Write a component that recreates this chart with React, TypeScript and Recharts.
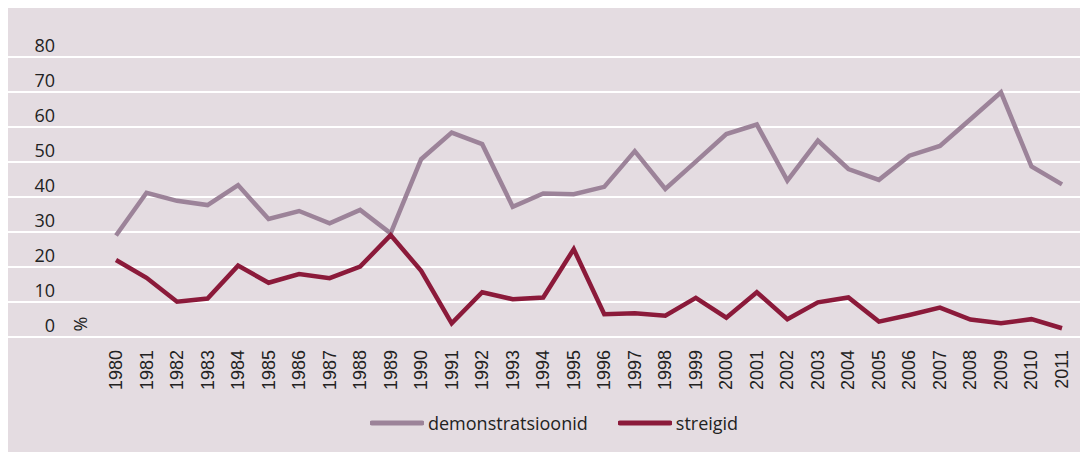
import React from 'react';
import { LineChart, Line, XAxis, YAxis, CartesianGrid, Legend } from 'recharts';

const years = [
  '1980', '1981', '1982', '1983', '1984', '1985', '1986', '1987', '1988', '1989',
  '1990', '1991', '1992', '1993', '1994', '1995', '1996', '1997', '1998', '1999',
  '2000', '2001', '2002', '2003', '2004', '2005', '2006', '2007', '2008', '2009',
  '2010', '2011',
];

const demonstratsioonid = [
  29, 41.2, 38.9, 37.7, 43.4, 33.7, 36, 32.5, 36.3, 29.6,
  50.8, 58.4, 55.1, 37.2, 41, 40.8, 42.9, 53.1, 42.3, 50.1,
  58, 60.7, 44.7, 56.1, 48, 44.9, 51.8, 54.6, 62.2, 69.9,
  48.7, 43.6,
];

const streigid = [
  22, 16.9, 10.1, 11, 20.4, 15.5, 18, 16.8, 20.1, 29.1,
  18.9, 3.9, 12.8, 10.8, 11.3, 25.1, 6.5, 6.8, 6.1, 11.2,
  5.5, 12.8, 5.1, 9.9, 11.3, 4.4, 6.3, 8.4, 5, 3.9,
  5.1, 2.5,
];

const yTicks = [0, 10, 20, 30, 40, 50, 60, 70, 80];

const series = [
  { key: 'demonstratsioonid', name: 'demonstratsioonid', color: '#9c8399' },
  { key: 'streigid', name: 'streigid', color: '#8b1a3a' },
];

const data = years.map((year, i) => ({
  year,
  demonstratsioonid: demonstratsioonid[i],
  streigid: streigid[i],
}));

const PANEL = '#e4dce1';
const TEXT = '#222';

const YTick = (props: any) => {
  const { y, payload } = props;
  return (
    <text
      x={47}
      y={y - 5}
      textAnchor="end"
      fill={TEXT}
      fontSize={18}
      fontFamily="'Open Sans', sans-serif"
    >
      {payload.value}
    </text>
  );
};

const XTick = (props: any) => {
  const { x, payload } = props;
  const y = 343;
  return (
    <text
      x={x}
      y={y}
      transform={`rotate(-90, ${x}, ${y})`}
      textAnchor="end"
      dominantBaseline="central"
      fill={TEXT}
      fontSize={18}
      fontFamily="'Liberation Sans', Arial, sans-serif"
    >
      {payload.value}
    </text>
  );
};

const PercentLabel = (props: any) => {
  const { viewBox } = props;
  const x = 72;
  const y = viewBox.y + viewBox.height - 13;
  return (
    <text
      x={x}
      y={y}
      transform={`rotate(-90, ${x}, ${y})`}
      textAnchor="middle"
      dominantBaseline="central"
      fill={TEXT}
      fontSize={18}
      fontFamily="'Open Sans', sans-serif"
    >
      %
    </text>
  );
};

const LegendContent = () => (
  <div style={{ display: 'flex', alignItems: 'center', paddingLeft: 362, height: 24 }}>
    {series.map((s, i) => (
      <div
        key={s.key}
        style={{ display: 'flex', alignItems: 'center', marginLeft: i === 0 ? 0 : 30 }}
      >
        <svg width={54} height={6} style={{ display: 'block' }}>
          <line x1={2} y1={3} x2={52} y2={3} stroke={s.color} strokeWidth={5} strokeLinecap="round" />
        </svg>
        <span
          style={{
            marginLeft: 4,
            fontFamily: "'Open Sans', sans-serif",
            fontSize: 18,
            color: TEXT,
            lineHeight: '24px',
          }}
        >
          {s.name}
        </span>
      </div>
    ))}
  </div>
);

export default function App() {
  return (
    <div style={{ width: 1080, height: 445, marginTop: -1, background: PANEL }}>
      <LineChart
        width={1080}
        height={445}
        data={data}
        margin={{ top: 50, right: 0, bottom: 0, left: 0 }}
      >
        <CartesianGrid vertical={false} stroke="#ffffff" strokeWidth={2} />
        <XAxis
          dataKey="year"
          height={115}
          padding={{ left: 108, right: 26 }}
          axisLine={false}
          tickLine={false}
          interval={0}
          tick={<XTick />}
        />
        <YAxis
          mirror
          width={60}
          domain={[0, 80]}
          ticks={yTicks}
          interval={0}
          axisLine={false}
          tickLine={false}
          tick={<YTick />}
          label={<PercentLabel />}
        />
        <Legend
          verticalAlign="middle"
          content={<LegendContent />}
          wrapperStyle={{ top: 404, left: 0, width: 1080 }}
        />
        {series.map((s) => (
          <Line
            key={s.key}
            type="linear"
            dataKey={s.key}
            name={s.name}
            stroke={s.color}
            strokeWidth={4.5}
            dot={false}
            activeDot={false}
            isAnimationActive={false}
          />
        ))}
      </LineChart>
    </div>
  );
}
